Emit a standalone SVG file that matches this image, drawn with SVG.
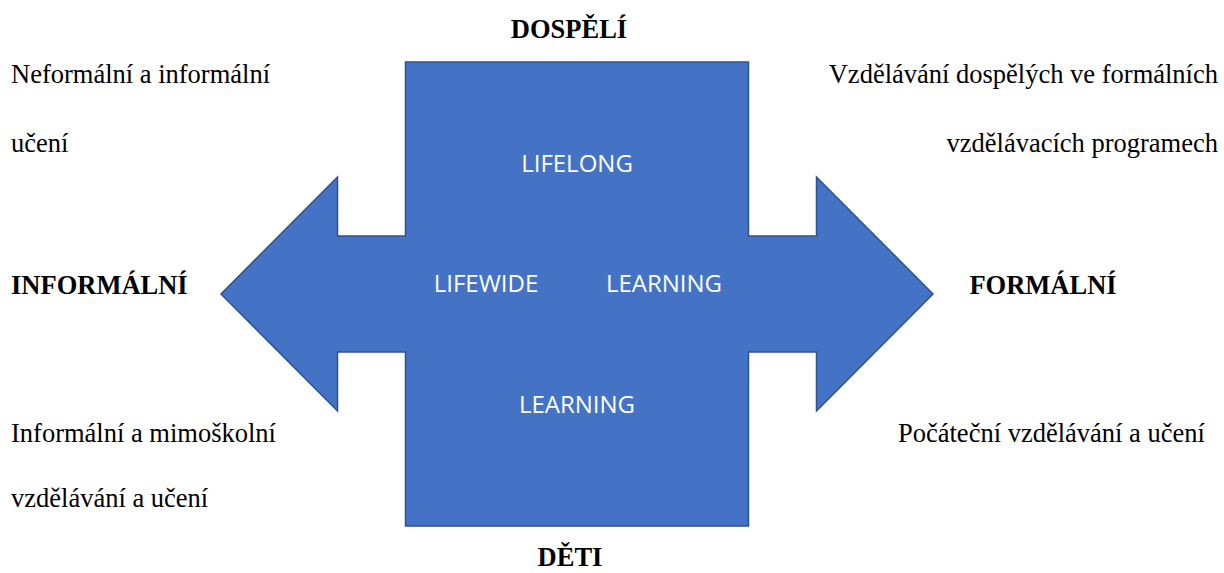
<svg xmlns="http://www.w3.org/2000/svg" width="1224" height="573" viewBox="0 0 1224 573">
<style>
.t{font-family:"Liberation Serif","Times New Roman",serif;font-size:26.5px;fill:#000}
.b{font-weight:bold}
.w{font-family:"Open Sans","Liberation Sans",sans-serif;font-size:24px;fill:#fff;text-anchor:middle}
.shape{fill:#4472C4;stroke:#2F528F;stroke-width:1.5}
</style>
<rect width="1224" height="573" fill="#fff"/>
<g id="cross">
<polygon class="shape" points="405.5,62 748.5,62 748.5,236 816.5,236 816.5,177 933,294 816.5,411 816.5,352 748.5,352 748.5,526 405.5,526 405.5,352 337.5,352 337.5,411 221,294 337.5,177 337.5,236 405.5,236"/>
<text class="w" x="577" y="172">LIFELONG</text>
<text class="w" x="486" y="292">LIFEWIDE</text>
<text class="w" x="664" y="292">LEARNING</text>
<text class="w" x="577" y="413">LEARNING</text>
</g>
<g id="labels">
<text class="t b" x="569" y="38" text-anchor="middle">DOSPĚLÍ</text>
<text class="t b" x="570" y="566" text-anchor="middle">DĚTI</text>
<text class="t b" x="11" y="294">INFORMÁLNÍ</text>
<text class="t b" x="1043" y="294" text-anchor="middle">FORMÁLNÍ</text>
</g>
<g id="notes">
<text class="t" x="11" y="83">Neformální a informální</text>
<text class="t" x="11" y="152">učení</text>
<text class="t" x="1218" y="83" text-anchor="end">Vzdělávání dospělých ve formálních</text>
<text class="t" x="1218" y="152" text-anchor="end">vzdělávacích programech</text>
<text class="t" x="11" y="442">Informální a mimoškolní</text>
<text class="t" x="11" y="507">vzdělávání a učení</text>
<text class="t" x="898" y="442">Počáteční vzdělávání a učení</text>
</g>
<g id="connectors"></g>
</svg>
